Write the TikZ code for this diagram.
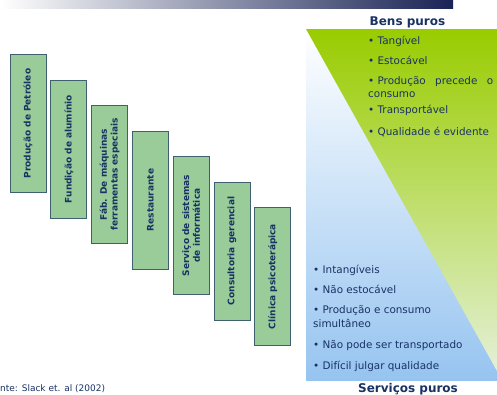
\documentclass[tikz,border=0pt]{standalone}
\usepackage{fontspec}
\setmainfont{DejaVu Sans}
\usepackage{xcolor}
\usetikzlibrary{positioning, calc}

\definecolor{azulesc}{RGB}{25,50,100}
\definecolor{verdebarra}{RGB}{153,204,153}
\definecolor{bordabarra}{RGB}{62,96,112}
\definecolor{verdetopo}{RGB}{153,204,0}
\definecolor{verdebase}{RGB}{228,240,214}
\definecolor{azulbase}{RGB}{150,196,240}
\definecolor{faixa}{RGB}{25,35,85}

\tikzset{
    barra/.style={draw=bordabarra, line width=0.9pt, fill=verdebarra, rotate=90,
        minimum width=138pt, minimum height=36pt, inner sep=1pt, align=center,
        font=\fontsize{9}{10.8}\selectfont\bfseries, text=azulesc},
    item/.style={anchor=base west, inner sep=0pt, text=azulesc,
        font=\fontsize{10.4}{13.5}\selectfont},
    titulo/.style={anchor=base, inner sep=0pt, text=azulesc,
        font=\fontsize{12}{14}\selectfont\bfseries}
}

\begin{document}
\begin{tikzpicture}[x=1pt, y=-1pt]
\useasboundingbox (0,0) rectangle (497,394);
% faixa do topo
\shade[left color=white, right color=faixa] (0,0) rectangle (453,8);

% triangulos bens / servicos
\shade[top color=white, bottom color=azulbase] (306,29) rectangle (497,380);
\shade[top color=verdetopo, bottom color=verdebase] (306,29) -- (497,29) -- (497,371) -- cycle;

% escada de processos
\foreach \i/\txt in {1/{Produção de Petróleo}, 2/{Fundição de alumínio},
    3/{Fáb. De máquinas\\ ferramentas especiais}, 4/{Restaurante},
    5/{Serviço de sistemas\\ de informática}, 6/{Consultoria gerencial},
    7/{Clínica psicoterápica}} {
    \node[barra] (bar\i) at ({28+40.8*(\i-1)}, {123.5+25.5*(\i-1)}) {\txt};
}

% bens puros (base da ultima linha nos itens de duas linhas)
\node[titulo] (bens) at (407.5,25) {Bens puros};
\node[item] (b1) at (368,44) {• Tangível};
\node[item] (b2) at (368,64) {• Estocável};
\node[item, align=left] (b3) at (368,97.5) {\makebox[125pt][s]{•\kern3.3pt Produção precede o}\\consumo};
\node[item] (b4) at (368,113) {• Transportável};
\node[item] (b5) at (368,135) {• Qualidade é evidente};

% servicos puros
\node[item] (s1) at (313,273) {• Intangíveis};
\node[item] (s2) at (313,293) {• Não estocável};
\node[item, align=left] (s3) at (313,327) {• Produção e consumo\\simultâneo};
\node[item] (s4) at (313,348) {• Não pode ser transportado};
\node[item] (s5) at (313,369) {• Difícil julgar qualidade};
\node[titulo] (servicos) at (408,392) {Serviços puros};

% fonte
\node[anchor=base west, inner sep=0pt, text=azulesc, font=\fontsize{9}{10}\selectfont]
    (fonte) at (0,391) {nte: Slack et. al (2002)};
\end{tikzpicture}
\end{document}
